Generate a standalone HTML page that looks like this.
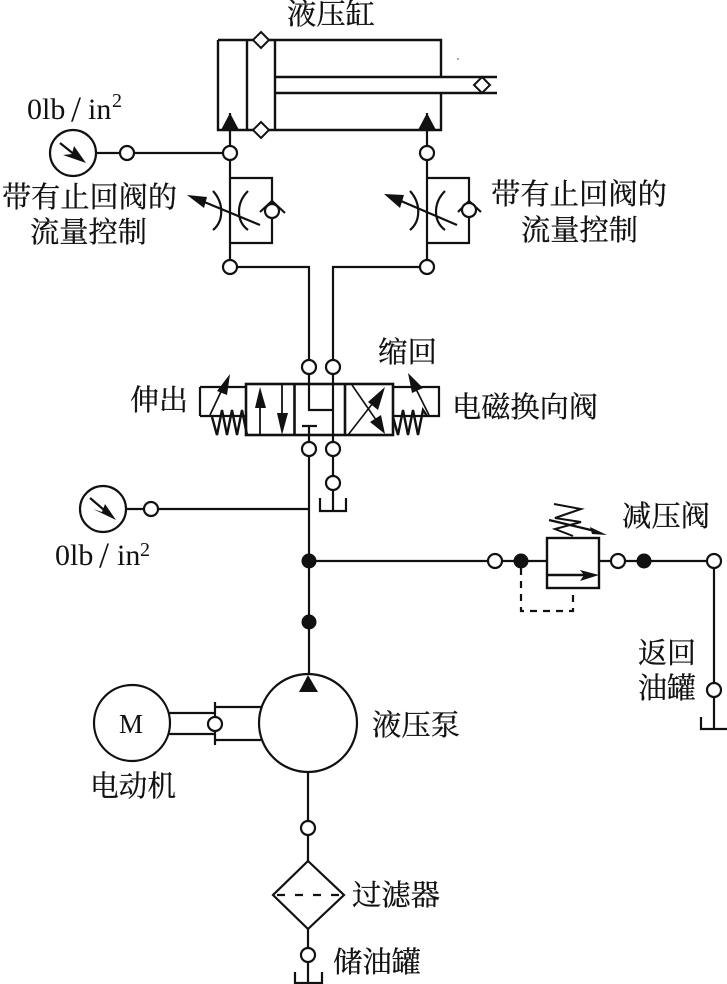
<!DOCTYPE html>
<html><head><meta charset="utf-8"><style>
html,body{margin:0;padding:0;background:#fff;width:727px;height:984px;overflow:hidden}
svg{display:block}
.c{font-family:"Liberation Serif","Noto Serif CJK SC",serif;font-size:29px;fill:#111;stroke:#111;stroke-width:.3}
.l{font-family:"Liberation Serif",serif;font-size:30px;fill:#111}
.o{fill:#fff;stroke:#111;stroke-width:2.2}
.d{fill:#111;stroke:#111;stroke-width:1}
.f{fill:#111;stroke:none}
</style></head><body>
<svg width="727" height="984" viewBox="0 0 727 984" xmlns="http://www.w3.org/2000/svg">
<rect width="727" height="984" fill="#fff"/>
<g fill="none" stroke="#111" stroke-width="2.2">
<!-- cylinder -->
<path d="M218 40H441V77M441 93V130H218V40M247 40V130M275 40V130M275 77H497M275 93H497" stroke-width="2.4"/>
<!-- left line group -->
<path d="M230 113V267H309V410H333M97 153H230M230 178H272V243H230"/>
<path d="M427 113V267H333V511M427 178H469V243H427"/>
<!-- flow controls left -->
<path d="M213 191C224 203 224 221 213 230M248 191C236 203 236 221 248 230"/>
<path d="M260 225L197 199"/>
<path d="M260 212L272 201L285 213"/>
<!-- flow controls right -->
<path d="M410 191C421 203 421 221 410 230M445 191C433 203 433 221 445 230"/>
<path d="M457 225L394 198"/>
<path d="M458 212L469 201L481 212"/>
<!-- valve -->
<rect x="246" y="384" width="147" height="51" stroke-width="2.6"/>
<path d="M294.500 384V435M345 384V435" stroke-width="2.6"/>
<path d="M200 387H246M200 416H246M200 387V416M393 387H439V416H393"/>
<!-- left solenoid -->
<path d="M210 415L226 381" stroke-width="1.7"/>
<path d="M212 417L217 435L222 410L227 435L232 410L237 435L242 410L247 435" stroke-width="2.4"/>
<!-- right solenoid -->
<path d="M429 415L412 381" stroke-width="1.7"/>
<path d="M393 417L398 435L403 410L408 435L413 410L418 435L423 410L427 416" stroke-width="2.4"/>
<!-- valve internals -->
<path d="M260 435V395M282 384V424" stroke-width="1.8"/>
<path d="M302 426H317M309 426V675"/>
<path d="M348 435L383 390M352 385L383 430" stroke-width="1.6"/>
<!-- below valve -->
<path d="M320 498V511H346V498M158 509H309M309 561H714V729M701 717V729H727"/>
<!-- relief -->
<path d="M521 568V611H573V588" stroke-dasharray="7 6" stroke-width="2.2"/>
<path d="M554 504L581 509L555 518L581 522L555 529L573 536" stroke-width="2"/>
<path d="M549 520L595 531"/>
<rect x="547" y="538" width="52" height="50" fill="#fff" stroke-width="2.4"/>
<path d="M547 575H585" stroke-width="2.4"/>
<!-- motor & pump -->
<path d="M169 713H215M169 734H215M215 702V745M215 707H261M215 740H261"/>
<circle cx="132" cy="723" r="38"/>
<circle cx="308" cy="723" r="49"/>
<path d="M308 772V982M295 972V983H322V972"/>
<path d="M308 861L344 895L308 929L273 895Z" fill="#fff"/>
<path d="M276 895H341" stroke-dasharray="8 10" stroke-dashoffset="-1"/>
<!-- gauges -->
<circle cx="73" cy="153" r="23"/>
<circle cx="103" cy="509" r="23"/>
<path d="M60 143L80 159M90 498L110 515"/>
<path d="M126 509H151"/>
</g>
<!-- filled arrowheads -->
<g class="f">
<path d="M230 113L239 130H221Z"/>
<path d="M427 113L436 130H418Z"/>
<path d="M308 675L318 692H299Z"/>
<path d="M187 195L207 197L204 208Z"/>
<path d="M384 194L404 195L400 208Z"/>
<path d="M230 374L227 395L217 391Z"/>
<path d="M408 373L423 388L412 393Z"/>
<path d="M260 387L266 408L255 408Z"/>
<path d="M282 435L277 413L288 413Z"/>
<path d="M385 387L378 410L368 402Z"/>
<path d="M385 434L370 422L381 415Z"/>
<path d="M599 575L580 570L584 575L580 581Z"/>
<path d="M607 535L590 527L592 534Z"/>
<path d="M86 163L74 146L72 154L63 155Z"/>
<path d="M116 520L105 504L102 512L93 509Z"/>
</g>
<!-- diamonds -->
<g fill="#fff" stroke="#111" stroke-width="2">
<path d="M261 32L269 40L261 48L253 40Z"/>
<path d="M261 122L269 130L261 138L253 130Z"/>
<path d="M482 77L490 85L482 93L474 85Z"/>
</g>
<!-- open ports -->
<g class="o">
<circle cx="230" cy="153" r="7"/><circle cx="127" cy="153" r="7"/><circle cx="230" cy="267" r="7"/>
<circle cx="272" cy="211" r="7"/><circle cx="427" cy="153" r="7"/><circle cx="427" cy="267" r="7"/><circle cx="469" cy="210" r="7"/>
<circle cx="309" cy="367" r="7"/><circle cx="333" cy="367" r="7"/><circle cx="309" cy="449" r="7"/><circle cx="333" cy="449" r="7"/><circle cx="333" cy="483" r="7"/>
<circle cx="151" cy="509" r="7"/><circle cx="495" cy="561" r="7"/><circle cx="618" cy="561" r="7"/><circle cx="714" cy="561" r="7"/><circle cx="714" cy="690" r="7"/>
<circle cx="215" cy="724" r="7"/><circle cx="308" cy="828" r="7"/><circle cx="308" cy="955" r="7"/>
</g>
<g class="d">
<circle cx="309" cy="561" r="7"/><circle cx="309" cy="622" r="7"/><circle cx="521" cy="561" r="7"/><circle cx="644" cy="561" r="7"/>
</g>
<!-- labels -->
<g class="c">
<text x="287" y="24" textLength="88" lengthAdjust="spacingAndGlyphs">液压缸</text>
<text x="2" y="207" textLength="175" lengthAdjust="spacingAndGlyphs">带有止回阀的</text>
<text x="30" y="242" textLength="117" lengthAdjust="spacingAndGlyphs">流量控制</text>
<text x="491" y="204" textLength="176" lengthAdjust="spacingAndGlyphs">带有止回阀的</text>
<text x="521" y="240" textLength="117" lengthAdjust="spacingAndGlyphs">流量控制</text>
<text x="378" y="362" textLength="59" lengthAdjust="spacingAndGlyphs">缩回</text>
<text x="130" y="410" textLength="58" lengthAdjust="spacingAndGlyphs">伸出</text>
<text x="452" y="417" textLength="146" lengthAdjust="spacingAndGlyphs">电磁换向阀</text>
<text x="622" y="526" textLength="88" lengthAdjust="spacingAndGlyphs">减压阀</text>
<text x="638" y="663" textLength="58" lengthAdjust="spacingAndGlyphs">返回</text>
<text x="638" y="698" textLength="58" lengthAdjust="spacingAndGlyphs">油罐</text>
<text x="372" y="735" textLength="88" lengthAdjust="spacingAndGlyphs">液压泵</text>
<text x="90" y="796" textLength="86" lengthAdjust="spacingAndGlyphs">电动机</text>
<text x="352" y="905" textLength="88" lengthAdjust="spacingAndGlyphs">过滤器</text>
<text x="333" y="972" textLength="88" lengthAdjust="spacingAndGlyphs">储油罐</text>
</g>
<g class="l">
<text x="27" y="119">0lb</text><text x="71" y="121" style="font-size:36px">/</text><text x="88" y="119">in</text><text x="112" y="107" style="font-size:20px">2</text>
<text x="55" y="565">0lb</text><text x="99" y="567" style="font-size:36px">/</text><text x="117" y="565">in</text><text x="140" y="556" style="font-size:20px">2</text>
<text x="119" y="733" style="font-size:27px">M</text>
</g>
<circle cx="458" cy="59" r=".7" fill="#333"/>
</svg>
</body></html>
